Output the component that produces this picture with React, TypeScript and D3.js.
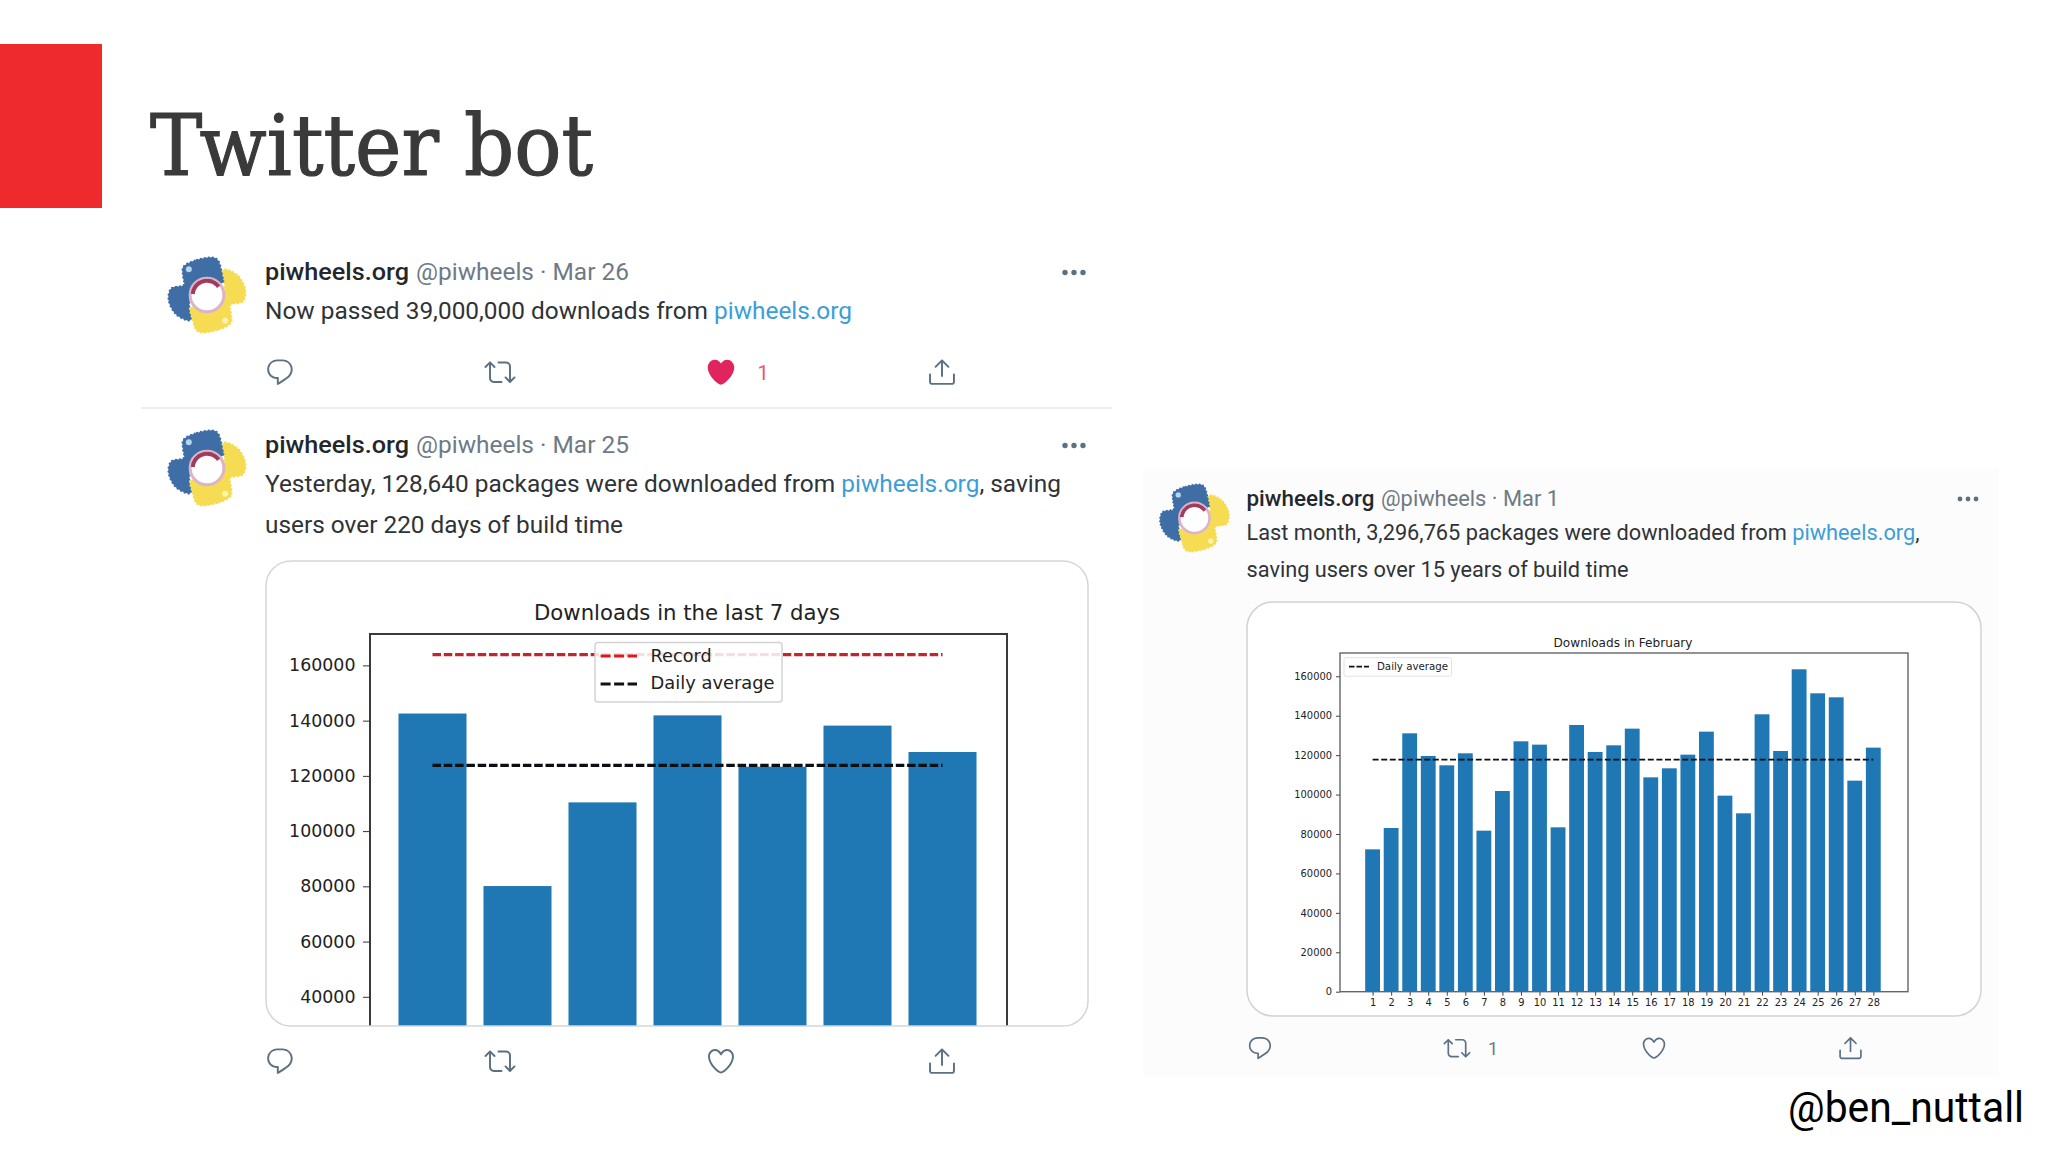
import React, { useEffect, useRef } from "react";
import * as d3 from "d3";

// ---------- data ----------
const weekDays = [1, 2, 3, 4, 5, 6, 7];
const weekDownloads = [142570, 80100, 110400, 141900, 123300, 138200, 128640];
const weekRecord = 163900;
const weekAverage = 123800;
const weekTicks = [40000, 60000, 80000, 100000, 120000, 140000, 160000];

const febDays = d3.range(1, 29);
const febDownloads = [
  72220, 83040, 131080, 119580, 114840, 120930, 81690, 101820, 127020, 125330,
  83380, 135310, 121610, 124990, 133450, 108750, 113320, 120250, 131920, 99450,
  90490, 140720, 122110, 163550, 151370, 149340, 107060, 123810,
];
const febAverage = 117741;
const febTicks = [0, 20000, 40000, 60000, 80000, 100000, 120000, 140000, 160000];

const CHART_FONT = "'DejaVu Sans', sans-serif";
const UI_FONT = "Roboto, sans-serif";
const BAR = "#1f77b4";
const ICON = "#5b7083";
const LINK = "#3b9ed8";
const DARK = "#2f3336";
const MUTED = "#6e7a85";

// ---------- axis helpers ----------
function LeftAxis({ scale, ticks, x, fontSize, tickLen, pad, color }: any) {
  const ref = useRef<SVGGElement>(null);
  useEffect(() => {
    const g = d3.select(ref.current!);
    g.call(d3.axisLeft(scale).tickValues(ticks).tickFormat(d3.format("d")).tickSize(tickLen).tickPadding(pad) as any);
    g.select(".domain").remove();
    g.selectAll("line").attr("stroke", color);
    g.selectAll("text").attr("fill", "#222").attr("font-family", CHART_FONT).attr("font-size", fontSize);
  }, []);
  return <g ref={ref} transform={`translate(${x},0)`} />;
}

function BottomAxis({ scale, ticks, y, fontSize, tickLen, color }: any) {
  const ref = useRef<SVGGElement>(null);
  useEffect(() => {
    const g = d3.select(ref.current!);
    g.call(d3.axisBottom(scale).tickValues(ticks).tickFormat(d3.format("d")).tickSize(tickLen).tickPadding(tickLen * 0.9) as any);
    g.select(".domain").remove();
    g.selectAll("line").attr("stroke", color);
    g.selectAll("text").attr("fill", "#222").attr("font-family", CHART_FONT).attr("font-size", fontSize);
  }, []);
  return <g ref={ref} transform={`translate(0,${y})`} />;
}

// ---------- tweet furniture ----------
const P_REPLY =
  "M14.046 2.242l-4.148-.01h-.002c-4.374 0-7.8 3.427-7.8 7.802 0 4.098 3.186 7.206 7.465 7.37v3.828c0 .108.044.286.12.403.142.225.384.347.632.347.138 0 .277-.038.402-.118.264-.168 6.473-4.14 8.088-5.506 1.902-1.61 3.04-3.97 3.043-6.312v-.017c-.006-4.367-3.43-7.787-7.8-7.788zm3.787 12.972c-1.134.96-4.862 3.405-6.772 4.643V16.67c0-.414-.335-.75-.75-.75h-.396c-3.66 0-6.318-2.476-6.318-5.886 0-3.534 2.768-6.302 6.3-6.302l4.147.01h.002c3.532 0 6.3 2.766 6.302 6.296-.003 1.91-.942 3.844-2.514 5.176z";
const P_RETWEET =
  "M23.77 15.67c-.292-.293-.767-.293-1.06 0l-2.22 2.22V7.65c0-2.068-1.683-3.75-3.75-3.75h-5.85c-.414 0-.75.336-.75.75s.336.75.75.75h5.85c1.24 0 2.25 1.01 2.25 2.25v10.24l-2.22-2.22c-.293-.293-.768-.293-1.06 0s-.294.768 0 1.06l3.5 3.5c.145.147.337.22.53.22s.383-.072.53-.22l3.5-3.5c.294-.292.294-.767 0-1.06zm-10.66 3.28H7.26c-1.24 0-2.25-1.01-2.25-2.25V6.46l2.22 2.22c.148.147.34.22.532.22s.384-.073.53-.22c.293-.293.293-.768 0-1.06l-3.5-3.5c-.293-.294-.768-.294-1.06 0l-3.5 3.5c-.294.292-.294.767 0 1.06s.767.293 1.06 0l2.22-2.22V16.7c0 2.068 1.683 3.75 3.75 3.75h5.85c.414 0 .75-.336.75-.75s-.337-.75-.75-.75z";
const P_HEART =
  "M12 21.638h-.014C9.403 21.59 1.95 14.856 1.95 8.478c0-3.064 2.525-5.754 5.403-5.754 2.29 0 3.83 1.58 4.646 2.73.814-1.148 2.354-2.73 4.645-2.73 2.88 0 5.404 2.69 5.404 5.755 0 6.376-7.454 13.11-10.037 13.157H12zM7.354 4.225c-2.08 0-3.903 1.988-3.903 4.255 0 5.74 7.034 11.596 8.55 11.658 1.518-.062 8.55-5.917 8.55-11.658 0-2.267-1.823-4.255-3.903-4.255-2.528 0-3.94 2.936-3.952 2.965-.23.562-1.156.562-1.387 0-.014-.03-1.425-2.965-3.954-2.965z";
const P_HEART_FILLED =
  "M12 21.638h-.014C9.403 21.59 1.95 14.856 1.95 8.478c0-3.064 2.525-5.754 5.403-5.754 2.29 0 3.83 1.58 4.646 2.73.814-1.148 2.354-2.73 4.645-2.73 2.88 0 5.404 2.69 5.404 5.755 0 6.376-7.454 13.11-10.037 13.157H12z";
const P_SHARE =
  "M17.53 7.47l-5-5c-.293-.293-.768-.293-1.06 0l-5 5c-.294.293-.294.768 0 1.06s.767.294 1.06 0l3.72-3.72V15c0 .414.336.75.75.75s.75-.336.75-.75V4.81l3.72 3.72c.146.147.338.22.53.22s.384-.072.53-.22c.293-.293.293-.767 0-1.06zM19.708 21.944H4.292C3.028 21.944 2 20.916 2 19.652V14c0-.414.336-.75.75-.75s.75.336.75.75v5.652c0 .437.355.792.792.792h15.416c.437 0 .792-.355.792-.792V14c0-.414.336-.75.75-.75s.75.336.75.75v5.652c0 1.264-1.028 2.292-2.292 2.292z";

function Icon({ d, cx, cy, size, fill = ICON }: any) {
  const s = size / 24;
  return <path d={d} fill={fill} transform={`translate(${cx - size / 2},${cy - size / 2}) scale(${s})`} />;
}

function Dots({ cx, cy, gap, r }: any) {
  return (
    <g fill={ICON}>
      {[-1, 0, 1].map((i) => (
        <circle key={i} cx={cx + i * gap} cy={cy} r={r} />
      ))}
    </g>
  );
}

const SNAKE_OUTLINE: [number, number][] = [
  [-72, -84], [-30, -106], [28, -110], [44, -72], [50, -38], [0, -52], [-44, -18], [-54, 32], [-50, 76],
  [-92, 60], [-116, 14], [-108, -20], [-70, -30], [-72, -55],
];
const SNAKE = d3.line().curve(d3.curveCatmullRomClosed.alpha(0.5))(SNAKE_OUTLINE) as string;

function Logo({ cx, cy, size }: any) {
  const s = size / 230;
  const arc = d3.arc()({ innerRadius: 43, outerRadius: 43, startAngle: -1.5, endAngle: 0.95 }) as string;
  return (
    <g transform={`translate(${cx},${cy}) scale(${s})`}>
      <g stroke="#3f6ea6" fill="#3f6ea6">
        <path d={SNAKE} />
        <path d={SNAKE} fill="none" strokeWidth={7} strokeLinecap="round" strokeDasharray="0 12" />
      </g>
      <g transform="rotate(180)" stroke="#f6dc52" fill="#f6dc52">
        <path d={SNAKE} />
        <path d={SNAKE} fill="none" strokeWidth={7} strokeLinecap="round" strokeDasharray="0 12" />
      </g>
      <circle cx={-55} cy={-78} r={9} fill="#b4d6ea" />
      <circle cx={55} cy={78} r={9} fill="#fff3b0" />
      <circle r={51} fill="#fff" stroke="#dcb4c8" strokeWidth={9} />
      <path d={arc} fill="none" stroke="#a23a5c" strokeWidth={12} strokeDasharray="6 2" />
    </g>
  );
}

function Line({ x, y, size, width, weight = 400, fill = DARK, children }: any) {
  return (
    <text x={x} y={y} fontFamily={UI_FONT} fontSize={size} fontWeight={weight} fill={fill} textLength={width} lengthAdjust="spacingAndGlyphs">
      {children}
    </text>
  );
}

function Tweet({ top, date, handleWidth }: any) {
  return (
    <g>
      <Logo cx={207} cy={top + 15} size={76} />
      <Line x={265} y={top} size={24.5} width={144} weight={500} fill="#23272b">piwheels.org</Line>
      <Line x={416} y={top} size={24.5} width={handleWidth} fill={MUTED}>{`@piwheels · ${date}`}</Line>
      <Dots cx={1074} cy={top - 7.5} gap={9} r={2.7} />
    </g>
  );
}

function ActionRow({ y, xs, size, liked }: any) {
  return (
    <g>
      <Icon d={P_REPLY} cx={xs[0]} cy={y} size={size} />
      <Icon d={P_RETWEET} cx={xs[1]} cy={y} size={size} />
      {liked ? <Icon d={P_HEART_FILLED} cx={xs[2]} cy={y} size={size * 1.02} fill="#e0245e" /> : <Icon d={P_HEART} cx={xs[2]} cy={y} size={size} />}
      <Icon d={P_SHARE} cx={xs[3]} cy={y} size={size} />
    </g>
  );
}

// ---------- charts ----------
function WeekChart() {
  const card = { x: 266, y: 561, w: 822, h: 465, r: 25 };
  const plot = { l: 370, r: 1007, t: 634 };
  const x = d3.scaleLinear().domain([1, 7]).range([432.5, 942.5]);
  const y = d3.scaleLinear().domain([40000, 160000]).range([996.8, 665.4]);
  const barW = (x(2) - x(1)) * 0.8;
  const bottom = card.y + card.h;
  const lineXs = [x(1), x(7)];
  return (
    <g>
      <defs>
        <clipPath id="weekCard">
          <rect x={card.x} y={card.y} width={card.w} height={card.h} rx={card.r} />
        </clipPath>
      </defs>
      <rect x={card.x} y={card.y} width={card.w} height={card.h} rx={card.r} fill="#fff" />
      <g clipPath="url(#weekCard)">
        {weekDays.map((d, i) => (
          <rect key={d} x={x(d) - barW / 2} y={y(weekDownloads[i])} width={barW} height={y(20000) - y(weekDownloads[i])} fill={BAR} />
        ))}
      </g>
      <line x1={lineXs[0]} x2={lineXs[1]} y1={y(weekRecord)} y2={y(weekRecord)} stroke="#c4242c" strokeWidth={3.4} strokeDasharray="8.5 2.8" />
      <line x1={lineXs[0]} x2={lineXs[1]} y1={y(weekAverage)} y2={y(weekAverage)} stroke="#0b0f14" strokeWidth={3.4} strokeDasharray="8.5 2.8" />
      <path d={`M${plot.l},${bottom}V${plot.t}H${plot.r}V${bottom}`} fill="none" stroke="#3a3a3a" strokeWidth={2} />
      <LeftAxis scale={y} ticks={weekTicks} x={plot.l} fontSize={17.4} tickLen={7} pad={7.5} color="#333" />
      <text x={687} y={620} textAnchor="middle" fontFamily={CHART_FONT} fontSize={22} fill="#222" textLength={306} lengthAdjust="spacingAndGlyphs">
        Downloads in the last 7 days
      </text>
      <rect x={595} y={642.5} width={187} height={59.5} rx={3} fill="#fff" fillOpacity={0.85} stroke="#d4d4d4" strokeWidth={1.5} />
      <line x1={600.6} x2={637} y1={656} y2={656} stroke="#e0181c" strokeWidth={2.8} strokeDasharray="10 3.5" />
      <line x1={600.6} x2={637} y1={684} y2={684} stroke="#111" strokeWidth={2.8} strokeDasharray="10 3.5" />
      <text x={650.6} y={662} fontFamily={CHART_FONT} fontSize={17.4} fill="#222" textLength={61} lengthAdjust="spacingAndGlyphs">Record</text>
      <text x={650.6} y={689} fontFamily={CHART_FONT} fontSize={17.4} fill="#222" textLength={124} lengthAdjust="spacingAndGlyphs">Daily average</text>
      <rect x={card.x} y={card.y} width={card.w} height={card.h} rx={card.r} fill="none" stroke="#d3d6d9" strokeWidth={1.5} />
    </g>
  );
}

function FebChart() {
  const card = { x: 1247, y: 602, w: 734, h: 414, r: 26 };
  const plot = { l: 1340, r: 1908, t: 653, b: 991.7 };
  const x = d3.scaleLinear().domain([1, 28]).range([1372.6, 1873.3]);
  const y = d3.scaleLinear().domain([0, 160000]).range([plot.b, 676.3]);
  const barW = (x(2) - x(1)) * 0.8;
  return (
    <g>
      <rect x={card.x} y={card.y} width={card.w} height={card.h} rx={card.r} fill="#fff" stroke="#cfd3d6" strokeWidth={1.5} />
      {febDays.map((d, i) => (
        <rect key={d} x={x(d) - barW / 2} y={y(febDownloads[i])} width={barW} height={y(0) - y(febDownloads[i])} fill={BAR} />
      ))}
      <line x1={x(1)} x2={x(28)} y1={y(febAverage)} y2={y(febAverage)} stroke="#0b0f14" strokeWidth={1.8} strokeDasharray="6 2.6" />
      <rect x={plot.l} y={plot.t} width={plot.r - plot.l} height={plot.b - plot.t} fill="none" stroke="#666" strokeWidth={1.4} />
      <LeftAxis scale={y} ticks={febTicks} x={plot.l} fontSize={9.9} tickLen={4} pad={4} color="#444" />
      <BottomAxis scale={x} ticks={febDays} y={plot.b} fontSize={9.9} tickLen={4} color="#444" />
      <text x={1623} y={647} textAnchor="middle" fontFamily={CHART_FONT} fontSize={11.6} fill="#222" textLength={139} lengthAdjust="spacingAndGlyphs">
        Downloads in February
      </text>
      <rect x={1344} y={657.7} width={107.5} height={18.5} rx={2} fill="#fff" fillOpacity={0.85} stroke="#e2e2e2" />
      <line x1={1349} x2={1369} y1={666.7} y2={666.7} stroke="#111" strokeWidth={1.8} strokeDasharray="5.5 2" />
      <text x={1377} y={670} fontFamily={CHART_FONT} fontSize={9.8} fill="#222" textLength={71} lengthAdjust="spacingAndGlyphs">Daily average</text>
    </g>
  );
}

export default function App() {
  return (
    <svg width={2048} height={1152} viewBox="0 0 2048 1152" style={{ position: "absolute", left: 0, top: 0, display: "block", background: "#fff" }}>
      <rect x={0} y={44} width={102} height={164} fill="#ee2a2c" />
      <text x={150} y={175} fontFamily="'DejaVu Serif', serif" fontSize={84} fill="#3a3a3a" stroke="#3a3a3a" strokeWidth={1.2} textLength={443} lengthAdjust="spacingAndGlyphs">
        Twitter bot
      </text>

      {/* left column */}
      <Tweet top={280} date="Mar 26" handleWidth={213} />
      <Line x={265} y={319} size={24.5} width={587}>
        Now passed 39,000,000 downloads from <tspan fill={LINK}>piwheels.org</tspan>
      </Line>
      <ActionRow y={372} xs={[280, 500, 721, 942]} size={31} liked />
      <text x={763} y={380} fontFamily={UI_FONT} fontSize={20} fill="#e8557f" textAnchor="middle">1</text>
      <line x1={141} x2={1112} y1={408} y2={408} stroke="#eceef0" strokeWidth={2} />

      <Tweet top={453} date="Mar 25" handleWidth={213} />
      <Line x={265} y={491.5} size={24.5} width={796}>
        Yesterday, 128,640 packages were downloaded from <tspan fill={LINK}>piwheels.org</tspan>, saving
      </Line>
      <Line x={265} y={532.5} size={24.5} width={358}>users over 220 days of build time</Line>
      <WeekChart />
      <ActionRow y={1061} xs={[280, 500, 721, 942]} size={31} />

      {/* right column */}
      <rect x={1143} y={468} width={856} height={609} fill="#fcfcfd" />
      <Logo cx={1194.5} cy={518} size={68} />
      <Line x={1246.5} y={505.5} size={21.6} width={128} weight={500} fill="#23272b">piwheels.org</Line>
      <Line x={1381} y={505.5} size={21.6} width={178} fill={MUTED}>@piwheels · Mar 1</Line>
      <Dots cx={1968} cy={499} gap={8} r={2.4} />
      <Line x={1246.5} y={540} size={21.6} width={673}>
        Last month, 3,296,765 packages were downloaded from <tspan fill={LINK}>piwheels.org</tspan>,
      </Line>
      <Line x={1246.5} y={577} size={21.6} width={382}>saving users over 15 years of build time</Line>
      <FebChart />
      <ActionRow y={1048} xs={[1260, 1457, 1654, 1850.5]} size={27} />
      <text x={1493} y={1055} fontFamily={UI_FONT} fontSize={18} fill={MUTED} textAnchor="middle">1</text>

      <text x={1788} y={1122} fontFamily={UI_FONT} fontSize={43} fill="#000" textLength={236} lengthAdjust="spacingAndGlyphs">@ben_nuttall</text>
    </svg>
  );
}
